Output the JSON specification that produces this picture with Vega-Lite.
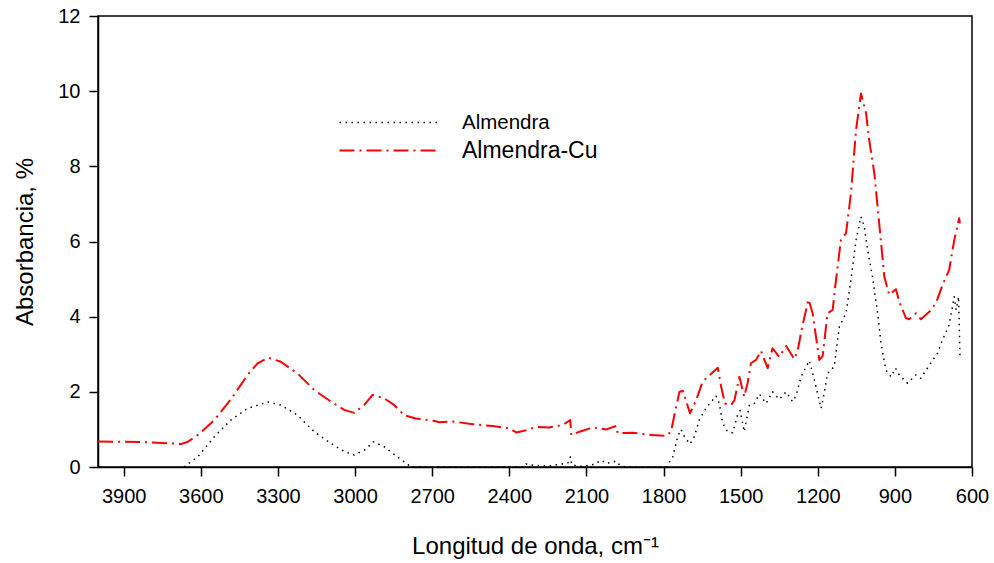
{
  "$schema": "https://vega.github.io/schema/vega-lite/v6.json",
  "width": 874,
  "height": 451,
  "autosize": {"type": "none"},
  "padding": {"left": 98, "top": 16, "right": 22, "bottom": 96},
  "background": "white",
  "config": {
    "view": {"stroke": "black", "strokeWidth": 1.5},
    "font": "Liberation Sans",
    "axis": {
      "domainColor": "black", "domainWidth": 1.5, "tickColor": "black", "tickWidth": 1.5, "tickSize": 9,
      "labelFont": "Liberation Sans", "labelFontSize": 20, "labelColor": "black",
      "titleFont": "Liberation Sans", "titleFontWeight": "normal", "titleColor": "black",
      "grid": false, "labelFlush": false, "labelOverlap": false, "labelBound": false, "zindex": 1
    },
    "legend": {"labelFont": "Liberation Sans", "labelColor": "black"}
  },
  "data": {"values": [
    {"s":"Almendra","x":3665,"y":0},{"s":"Almendra","x":3612,"y":0.27},{"s":"Almendra","x":3547,"y":0.81},{"s":"Almendra","x":3483,"y":1.25},{"s":"Almendra","x":3418,"y":1.56},{"s":"Almendra","x":3340,"y":1.73},{"s":"Almendra","x":3289,"y":1.65},{"s":"Almendra","x":3224,"y":1.38},{"s":"Almendra","x":3159,"y":0.94},{"s":"Almendra","x":3094,"y":0.63},{"s":"Almendra","x":3042,"y":0.41},{"s":"Almendra","x":3003,"y":0.32},{"s":"Almendra","x":2964,"y":0.45},{"s":"Almendra","x":2928,"y":0.67},{"s":"Almendra","x":2887,"y":0.54},{"s":"Almendra","x":2835,"y":0.27},{"s":"Almendra","x":2783,"y":0.01},{"s":"Almendra","x":2700,"y":0},{"s":"Almendra","x":2500,"y":0},{"s":"Almendra","x":2345,"y":0},{"s":"Almendra","x":2335,"y":0.08},{"s":"Almendra","x":2300,"y":0.04},{"s":"Almendra","x":2240,"y":0.03},{"s":"Almendra","x":2195,"y":0.08},{"s":"Almendra","x":2170,"y":0.12},{"s":"Almendra","x":2162,"y":0.27},{"s":"Almendra","x":2157,"y":0.05},{"s":"Almendra","x":2120,"y":0.02},{"s":"Almendra","x":2080,"y":0.05},{"s":"Almendra","x":2040,"y":0.18},{"s":"Almendra","x":2025,"y":0.1},{"s":"Almendra","x":1995,"y":0.13},{"s":"Almendra","x":1985,"y":0.16},{"s":"Almendra","x":1970,"y":0.05},{"s":"Almendra","x":1950,"y":0},{"s":"Almendra","x":1790,"y":0},{"s":"Almendra","x":1764,"y":0.27},{"s":"Almendra","x":1745,"y":0.81},{"s":"Almendra","x":1732,"y":1.0},{"s":"Almendra","x":1719,"y":0.81},{"s":"Almendra","x":1697,"y":0.61},{"s":"Almendra","x":1680,"y":0.81},{"s":"Almendra","x":1661,"y":1.25},{"s":"Almendra","x":1635,"y":1.56},{"s":"Almendra","x":1596,"y":1.89},{"s":"Almendra","x":1583,"y":1.69},{"s":"Almendra","x":1570,"y":1.16},{"s":"Almendra","x":1551,"y":0.94},{"s":"Almendra","x":1531,"y":0.91},{"s":"Almendra","x":1512,"y":1.38},{"s":"Almendra","x":1502,"y":1.5},{"s":"Almendra","x":1486,"y":0.94},{"s":"Almendra","x":1466,"y":1.65},{"s":"Almendra","x":1447,"y":1.69},{"s":"Almendra","x":1427,"y":1.94},{"s":"Almendra","x":1401,"y":1.69},{"s":"Almendra","x":1376,"y":2.0},{"s":"Almendra","x":1350,"y":1.8},{"s":"Almendra","x":1323,"y":2.0},{"s":"Almendra","x":1298,"y":1.74},{"s":"Almendra","x":1285,"y":1.89},{"s":"Almendra","x":1265,"y":2.4},{"s":"Almendra","x":1233,"y":2.83},{"s":"Almendra","x":1213,"y":2.31},{"s":"Almendra","x":1187,"y":1.56},{"s":"Almendra","x":1175,"y":1.96},{"s":"Almendra","x":1162,"y":2.49},{"s":"Almendra","x":1136,"y":2.67},{"s":"Almendra","x":1116,"y":3.73},{"s":"Almendra","x":1090,"y":4.09},{"s":"Almendra","x":1071,"y":4.98},{"s":"Almendra","x":1051,"y":6.04},{"s":"Almendra","x":1032,"y":6.66},{"s":"Almendra","x":1019,"y":6.39},{"s":"Almendra","x":1006,"y":5.77},{"s":"Almendra","x":987,"y":5.06},{"s":"Almendra","x":967,"y":4.09},{"s":"Almendra","x":954,"y":3.29},{"s":"Almendra","x":935,"y":2.58},{"s":"Almendra","x":915,"y":2.4},{"s":"Almendra","x":898,"y":2.63},{"s":"Almendra","x":883,"y":2.45},{"s":"Almendra","x":851,"y":2.23},{"s":"Almendra","x":818,"y":2.45},{"s":"Almendra","x":799,"y":2.36},{"s":"Almendra","x":766,"y":2.71},{"s":"Almendra","x":734,"y":3.03},{"s":"Almendra","x":715,"y":3.38},{"s":"Almendra","x":689,"y":3.78},{"s":"Almendra","x":669,"y":4.53},{"s":"Almendra","x":662,"y":4.18},{"s":"Almendra","x":652,"y":4.53},{"s":"Almendra","x":647,"y":2.94},
    {"s":"Almendra-Cu","x":4000,"y":0.68},{"s":"Almendra-Cu","x":3900,"y":0.67},{"s":"Almendra-Cu","x":3807,"y":0.66},{"s":"Almendra-Cu","x":3720,"y":0.63},{"s":"Almendra-Cu","x":3677,"y":0.61},{"s":"Almendra-Cu","x":3651,"y":0.67},{"s":"Almendra-Cu","x":3612,"y":0.85},{"s":"Almendra-Cu","x":3547,"y":1.25},{"s":"Almendra-Cu","x":3483,"y":1.8},{"s":"Almendra-Cu","x":3418,"y":2.45},{"s":"Almendra-Cu","x":3379,"y":2.76},{"s":"Almendra-Cu","x":3338,"y":2.91},{"s":"Almendra-Cu","x":3289,"y":2.8},{"s":"Almendra-Cu","x":3224,"y":2.49},{"s":"Almendra-Cu","x":3159,"y":2.05},{"s":"Almendra-Cu","x":3094,"y":1.74},{"s":"Almendra-Cu","x":3042,"y":1.52},{"s":"Almendra-Cu","x":3003,"y":1.44},{"s":"Almendra-Cu","x":2964,"y":1.65},{"s":"Almendra-Cu","x":2932,"y":1.92},{"s":"Almendra-Cu","x":2887,"y":1.83},{"s":"Almendra-Cu","x":2848,"y":1.65},{"s":"Almendra-Cu","x":2809,"y":1.38},{"s":"Almendra-Cu","x":2764,"y":1.29},{"s":"Almendra-Cu","x":2700,"y":1.24},{"s":"Almendra-Cu","x":2671,"y":1.19},{"s":"Almendra-Cu","x":2620,"y":1.21},{"s":"Almendra-Cu","x":2542,"y":1.14},{"s":"Almendra-Cu","x":2464,"y":1.09},{"s":"Almendra-Cu","x":2399,"y":1.03},{"s":"Almendra-Cu","x":2373,"y":0.92},{"s":"Almendra-Cu","x":2334,"y":0.98},{"s":"Almendra-Cu","x":2295,"y":1.07},{"s":"Almendra-Cu","x":2244,"y":1.05},{"s":"Almendra-Cu","x":2192,"y":1.12},{"s":"Almendra-Cu","x":2163,"y":1.25},{"s":"Almendra-Cu","x":2159,"y":0.85},{"s":"Almendra-Cu","x":2127,"y":0.94},{"s":"Almendra-Cu","x":2075,"y":1.05},{"s":"Almendra-Cu","x":2023,"y":1.0},{"s":"Almendra-Cu","x":1984,"y":1.09},{"s":"Almendra-Cu","x":1978,"y":0.9},{"s":"Almendra-Cu","x":1920,"y":0.91},{"s":"Almendra-Cu","x":1842,"y":0.85},{"s":"Almendra-Cu","x":1790,"y":0.83},{"s":"Almendra-Cu","x":1771,"y":0.94},{"s":"Almendra-Cu","x":1751,"y":1.6},{"s":"Almendra-Cu","x":1738,"y":2.0},{"s":"Almendra-Cu","x":1725,"y":2.03},{"s":"Almendra-Cu","x":1697,"y":1.43},{"s":"Almendra-Cu","x":1673,"y":1.78},{"s":"Almendra-Cu","x":1648,"y":2.27},{"s":"Almendra-Cu","x":1589,"y":2.64},{"s":"Almendra-Cu","x":1576,"y":2.14},{"s":"Almendra-Cu","x":1561,"y":1.69},{"s":"Almendra-Cu","x":1537,"y":1.65},{"s":"Almendra-Cu","x":1524,"y":1.78},{"s":"Almendra-Cu","x":1505,"y":2.4},{"s":"Almendra-Cu","x":1486,"y":1.87},{"s":"Almendra-Cu","x":1473,"y":2.23},{"s":"Almendra-Cu","x":1460,"y":2.76},{"s":"Almendra-Cu","x":1440,"y":2.85},{"s":"Almendra-Cu","x":1421,"y":3.09},{"s":"Almendra-Cu","x":1395,"y":2.63},{"s":"Almendra-Cu","x":1376,"y":3.16},{"s":"Almendra-Cu","x":1350,"y":2.93},{"s":"Almendra-Cu","x":1323,"y":3.22},{"s":"Almendra-Cu","x":1291,"y":2.87},{"s":"Almendra-Cu","x":1278,"y":3.11},{"s":"Almendra-Cu","x":1259,"y":3.78},{"s":"Almendra-Cu","x":1236,"y":4.46},{"s":"Almendra-Cu","x":1220,"y":4.09},{"s":"Almendra-Cu","x":1194,"y":2.85},{"s":"Almendra-Cu","x":1181,"y":2.95},{"s":"Almendra-Cu","x":1162,"y":4.09},{"s":"Almendra-Cu","x":1142,"y":4.18},{"s":"Almendra-Cu","x":1129,"y":4.98},{"s":"Almendra-Cu","x":1110,"y":6.04},{"s":"Almendra-Cu","x":1090,"y":6.22},{"s":"Almendra-Cu","x":1071,"y":7.28},{"s":"Almendra-Cu","x":1051,"y":8.97},{"s":"Almendra-Cu","x":1032,"y":9.94},{"s":"Almendra-Cu","x":1012,"y":9.41},{"s":"Almendra-Cu","x":1000,"y":8.7},{"s":"Almendra-Cu","x":980,"y":7.82},{"s":"Almendra-Cu","x":961,"y":6.48},{"s":"Almendra-Cu","x":941,"y":5.06},{"s":"Almendra-Cu","x":922,"y":4.58},{"s":"Almendra-Cu","x":896,"y":4.73},{"s":"Almendra-Cu","x":883,"y":4.4},{"s":"Almendra-Cu","x":857,"y":3.96},{"s":"Almendra-Cu","x":844,"y":3.93},{"s":"Almendra-Cu","x":818,"y":4.09},{"s":"Almendra-Cu","x":799,"y":3.93},{"s":"Almendra-Cu","x":766,"y":4.13},{"s":"Almendra-Cu","x":740,"y":4.36},{"s":"Almendra-Cu","x":715,"y":4.84},{"s":"Almendra-Cu","x":689,"y":5.24},{"s":"Almendra-Cu","x":669,"y":6.04},{"s":"Almendra-Cu","x":650,"y":6.62},{"s":"Almendra-Cu","x":647,"y":6.48}
  ]},
  "mark": {"type": "line", "strokeCap": "butt", "strokeJoin": "round"},
  "encoding": {
    "x": {
      "field": "x", "type": "quantitative",
      "scale": {"domain": [600, 4000], "reverse": true, "nice": false, "zero": false},
      "axis": {"values": [3900, 3600, 3300, 3000, 2700, 2400, 2100, 1800, 1500, 1200, 900, 600], "format": "d", "labelPadding": 10, "title": "Longitud de onda, cm⁻¹", "titleFontSize": 24, "titleBaseline": "alphabetic", "titleY": 86.5}
    },
    "y": {
      "field": "y", "type": "quantitative",
      "scale": {"domain": [0, 12], "nice": false},
      "axis": {"values": [0, 2, 4, 6, 8, 10, 12], "format": "d", "labelPadding": 9, "title": "Absorbancia, %", "titleFontSize": 24, "titleBaseline": "alphabetic", "titleAngle": 270, "titleX": -66, "titleY": 225.5}
    },
    "color": {
      "field": "s", "type": "nominal",
      "scale": {"domain": ["Almendra", "Almendra-Cu"], "range": ["black", "#ff0000"]},
      "legend": {
        "title": null, "orient": "none", "legendX": 240, "legendY": 95,
        "symbolType": "M-1,0H9", "symbolSize": 400, "symbolStrokeWidth": 1.6,
        "labelOffset": 101, "rowPadding": 6,
        "encode": {"labels": {"update": {"fontSize": {"signal": "datum.value === 'Almendra' ? 20.5 : 23"}}}}
      }
    },
    "strokeDash": {
      "field": "s", "type": "nominal",
      "scale": {"domain": ["Almendra", "Almendra-Cu"], "range": [[1.5, 4.5], [15, 5, 2, 5]]},
      "legend": {
        "title": null, "orient": "none", "legendX": 240, "legendY": 95,
        "symbolType": "M-1,0H9", "symbolSize": 400, "symbolStrokeWidth": 1.6,
        "labelOffset": 101, "rowPadding": 6
      }
    },
    "strokeWidth": {
      "field": "s", "type": "nominal",
      "scale": {"domain": ["Almendra", "Almendra-Cu"], "range": [1.5, 2]},
      "legend": null
    }
  }
}
